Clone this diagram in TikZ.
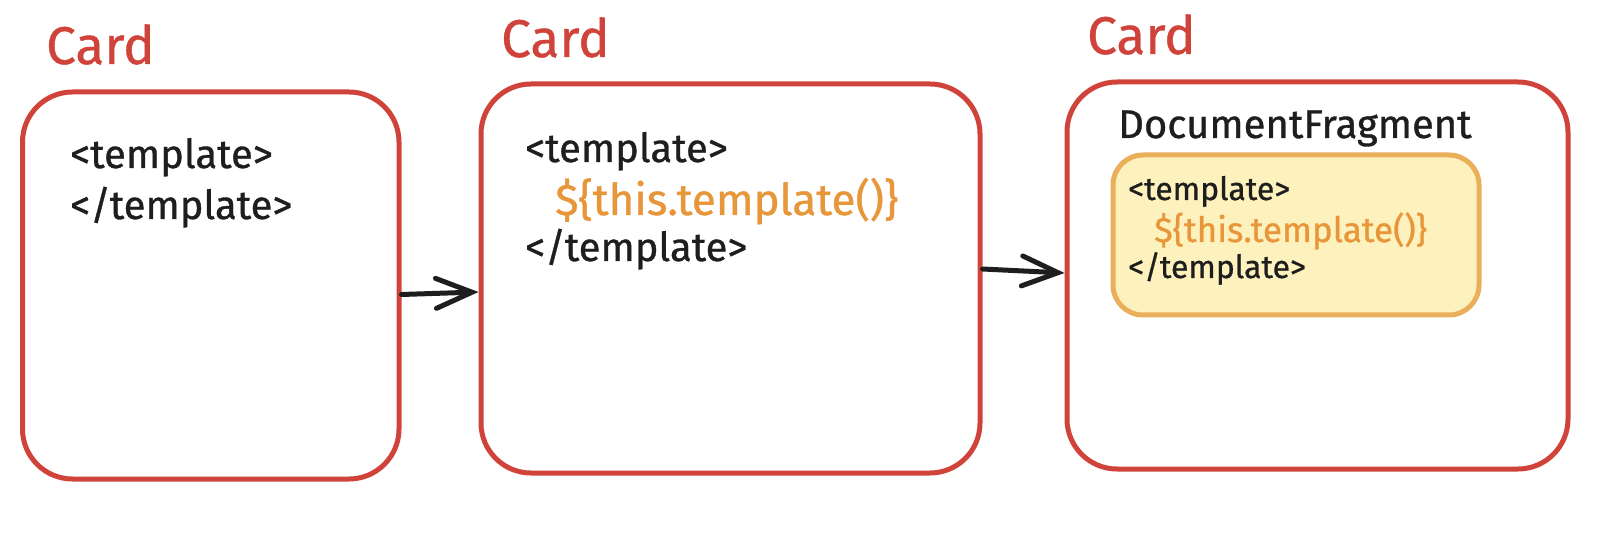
\documentclass[tikz,border=0pt]{standalone}
\usepackage{fontspec}
\setmainfont{Fira Sans}[FakeBold=0.8,AutoFakeBold=0.8]
\usetikzlibrary{arrows.meta}
\definecolor{cardred}{RGB}{208,67,58}
\definecolor{codeorange}{RGB}{232,150,58}
\definecolor{inkblack}{RGB}{30,30,30}
\definecolor{fragfill}{RGB}{253,242,190}
\definecolor{fragline}{RGB}{234,175,90}
\tikzset{
  cardbox/.style={draw=cardred, line width=5pt, rounded corners=50pt, fill=white, inner sep=0pt},
  fragbox/.style={draw=fragline, fill=fragfill, line width=5pt, rounded corners=30pt, inner sep=0pt},
  cardlabel/.style={anchor=base west, inner sep=0pt, text=cardred, font=\fontsize{53}{60}\selectfont\bfseries},
  codetext/.style={anchor=base west, inner sep=0pt, text=inkblack, font=\fontsize{40}{48}\selectfont\bfseries},
  codeorng/.style={anchor=base west, inner sep=0pt, text=codeorange, font=\fontsize{44}{52}\selectfont\bfseries},
  smallcode/.style={anchor=base west, inner sep=0pt, text=inkblack, font=\fontsize{32}{38}\selectfont\bfseries},
  smallorng/.style={anchor=base west, inner sep=0pt, text=codeorange, font=\fontsize{35}{40}\selectfont\bfseries},
  flow/.style={draw=inkblack, line width=5pt, line cap=round, -{Straight Barb[length=36pt,width=30pt,line cap=round]}}
}
\begin{document}
\begin{tikzpicture}[x=1pt,y=-1pt]
\useasboundingbox (0,0) rectangle (1604,534);
% labels
\node[cardlabel] (l1) at (46,64) {Card};
\node[cardlabel] (l2) at (501,57) {Card};
\node[cardlabel] (l3) at (1087,54) {Card};
% boxes
\node[cardbox, minimum width=376.5pt, minimum height=387pt] (b1) at (210.75,285.5) {};
\node[cardbox, minimum width=499pt, minimum height=389pt] (b2) at (730.5,278.5) {};
\node[cardbox, minimum width=501pt, minimum height=387pt] (b3) at (1317.5,275.5) {};
\node[fragbox, minimum width=366pt, minimum height=160pt] (frag) at (1296,235) {};
% box 1 text
\node[codetext] (t11) at (70,168) {<template>};
\node[codetext] (t12) at (70,219) {</template>};
% box 2 text
\node[codetext] (t21) at (525,162) {<template>};
\node[codeorng] (t22) at (555,215) {\$\{this.template()\}};
\node[codetext] (t23) at (525,261) {</template>};
% box 3 text
\node[codetext] (t31) at (1118,138) {DocumentFragment};
\node[smallcode] (t32) at (1128,200) {<template>};
\node[smallorng] (t33) at (1154,242) {\$\{this.template()\}};
\node[smallcode] (t34) at (1128,278) {</template>};
% arrows
\draw[flow] ([yshift=-9pt]b1.east) -- ([yshift=-13.5pt]b2.west);
\draw[flow] ([yshift=9.5pt]b2.east) -- ([yshift=2.5pt]b3.west);
\end{tikzpicture}
\end{document}
